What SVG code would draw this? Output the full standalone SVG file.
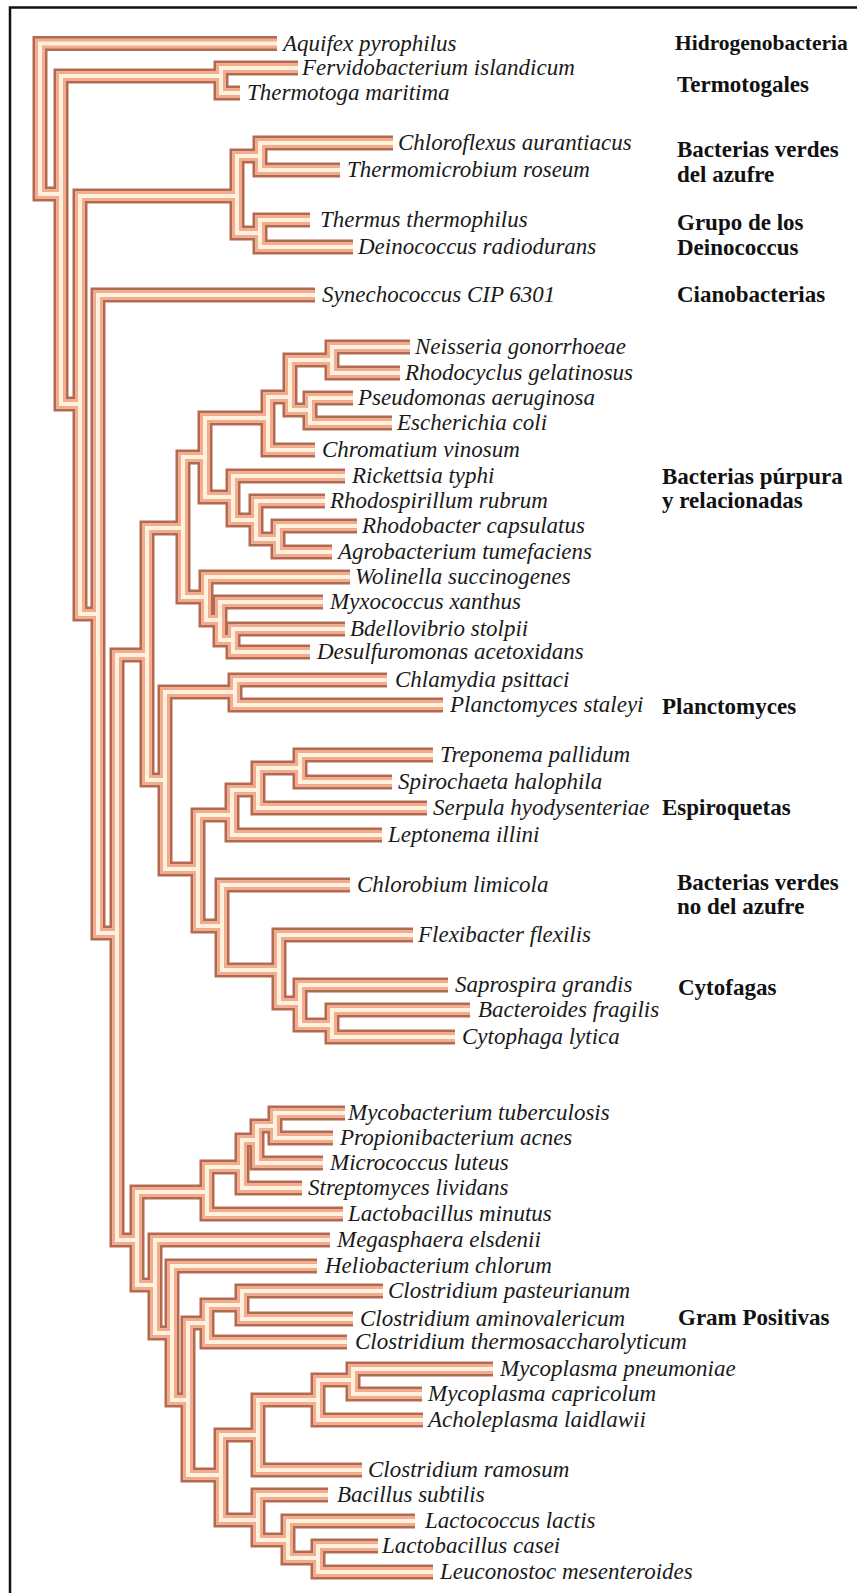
<svg xmlns="http://www.w3.org/2000/svg" xmlns:xlink="http://www.w3.org/1999/xlink" width="857" height="1593" viewBox="0 0 857 1593">
<style>
.leaf{font-family:"Liberation Serif","DejaVu Serif",serif;font-style:italic;font-size:23px;fill:#1a1a1a}
.grp{font-family:"Liberation Serif","DejaVu Serif",serif;font-weight:bold;font-size:23px;fill:#111}
.t1{fill:none;stroke:#b36a50;stroke-width:15;stroke-linejoin:miter}
.t2{fill:none;stroke:#f0ad92;stroke-width:10;stroke-linejoin:miter}
.t3{fill:none;stroke:#fff1dc;stroke-width:4;stroke-linejoin:miter}
</style>
<defs>
<g id="branches">
<path d="M277,43.5 H40 V194 H61"/>
<path d="M221,76 H61 V404 H80"/>
<path d="M298,68 H221 V93 H240"/>
<path d="M237,196 H80 V614 H98"/>
<path d="M260,156 H237 V233 H260"/>
<path d="M393,143 H260 V170 H340"/>
<path d="M310,220 H260 V247 H353"/>
<path d="M315,295 H98 V933 H117"/>
<path d="M147,655 H117 V1240 H137"/>
<path d="M183,528 H147 V780 H165"/>
<path d="M205,457 H183 V597 H206"/>
<path d="M268,418 H205 V497 H233"/>
<path d="M290,397 H268 V450 H315"/>
<path d="M332,360 H290 V410 H310"/>
<path d="M410,347 H332 V373 H400"/>
<path d="M353,398 H310 V423 H392"/>
<path d="M345,476 H233 V520 H256"/>
<path d="M325,501 H256 V539 H278"/>
<path d="M357,526 H278 V552 H332"/>
<path d="M350,577 H206 V620 H220"/>
<path d="M323,602 H220 V640 H233"/>
<path d="M345,629 H233 V652 H310"/>
<path d="M235,692 H165 V869 H198"/>
<path d="M387,680 H235 V705 H443"/>
<path d="M232,815 H198 V926 H222"/>
<path d="M258,790 H232 V835 H382"/>
<path d="M300,768 H258 V808 H427"/>
<path d="M433,755 H300 V782 H392"/>
<path d="M350,885 H222 V970 H279"/>
<path d="M413,935 H279 V1003 H300"/>
<path d="M448,985 H300 V1025 H332"/>
<path d="M470,1010 H332 V1037 H455"/>
<path d="M207,1192 H137 V1285 H155"/>
<path d="M242,1167 H207 V1214 H343"/>
<path d="M257,1140 H242 V1188 H302"/>
<path d="M275,1126 H257 V1163 H323"/>
<path d="M345,1113 H275 V1138 H333"/>
<path d="M330,1240 H155 V1333 H172"/>
<path d="M317,1266 H172 V1400 H188"/>
<path d="M207,1323 H188 V1475 H221"/>
<path d="M242,1305 H207 V1342 H347"/>
<path d="M383,1291 H242 V1319 H353"/>
<path d="M258,1435 H221 V1520 H258"/>
<path d="M318,1400 H258 V1470 H362"/>
<path d="M353,1380 H318 V1420 H423"/>
<path d="M493,1369 H353 V1394 H422"/>
<path d="M328,1495 H258 V1540 H288"/>
<path d="M415,1521 H288 V1558 H318"/>
<path d="M378,1546 H318 V1572 H433"/>
</g>
</defs>
<rect x="0" y="0" width="857" height="1593" fill="#fff"/>
<g id="frame" stroke="#111" stroke-width="2.5" fill="none">
<path d="M10,1593 V7.5 H857"/>
</g>
<g id="connectors">
<use xlink:href="#branches" class="t1"/>
<use xlink:href="#branches" class="t2"/>
<use xlink:href="#branches" class="t3"/>
</g>
<g id="leaves">
<g id="n-aquifex"><text class="leaf" x="283" y="50.5">Aquifex pyrophilus</text></g>
<g id="n-fervidobacterium"><text class="leaf" x="302" y="75">Fervidobacterium islandicum</text></g>
<g id="n-thermotoga"><text class="leaf" x="247" y="100">Thermotoga maritima</text></g>
<g id="n-chloroflexus"><text class="leaf" x="398" y="150">Chloroflexus aurantiacus</text></g>
<g id="n-thermomicrobium"><text class="leaf" x="347" y="177">Thermomicrobium roseum</text></g>
<g id="n-thermus"><text class="leaf" x="320" y="227">Thermus thermophilus</text></g>
<g id="n-deinococcus"><text class="leaf" x="358" y="254">Deinococcus radiodurans</text></g>
<g id="n-synechococcus"><text class="leaf" x="322" y="302">Synechococcus CIP 6301</text></g>
<g id="n-neisseria"><text class="leaf" x="415" y="354">Neisseria gonorrhoeae</text></g>
<g id="n-rhodocyclus"><text class="leaf" x="405" y="380">Rhodocyclus gelatinosus</text></g>
<g id="n-pseudomonas"><text class="leaf" x="358" y="405">Pseudomonas aeruginosa</text></g>
<g id="n-escherichia"><text class="leaf" x="397" y="430">Escherichia coli</text></g>
<g id="n-chromatium"><text class="leaf" x="322" y="457">Chromatium vinosum</text></g>
<g id="n-rickettsia"><text class="leaf" x="352" y="483">Rickettsia typhi</text></g>
<g id="n-rhodospirillum"><text class="leaf" x="330" y="508">Rhodospirillum rubrum</text></g>
<g id="n-rhodobacter"><text class="leaf" x="362" y="533">Rhodobacter capsulatus</text></g>
<g id="n-agrobacterium"><text class="leaf" x="338" y="559">Agrobacterium tumefaciens</text></g>
<g id="n-wolinella"><text class="leaf" x="355" y="584">Wolinella succinogenes</text></g>
<g id="n-myxococcus"><text class="leaf" x="330" y="609">Myxococcus xanthus</text></g>
<g id="n-bdellovibrio"><text class="leaf" x="350" y="636">Bdellovibrio stolpii</text></g>
<g id="n-desulfuromonas"><text class="leaf" x="317" y="659">Desulfuromonas acetoxidans</text></g>
<g id="n-chlamydia"><text class="leaf" x="395" y="687">Chlamydia psittaci</text></g>
<g id="n-planctomyces"><text class="leaf" x="450" y="712">Planctomyces staleyi</text></g>
<g id="n-treponema"><text class="leaf" x="440" y="762">Treponema pallidum</text></g>
<g id="n-spirochaeta"><text class="leaf" x="398" y="789">Spirochaeta halophila</text></g>
<g id="n-serpula"><text class="leaf" x="433" y="815">Serpula hyodysenteriae</text></g>
<g id="n-leptonema"><text class="leaf" x="388" y="842">Leptonema illini</text></g>
<g id="n-chlorobium"><text class="leaf" x="357" y="892">Chlorobium limicola</text></g>
<g id="n-flexibacter"><text class="leaf" x="418" y="942">Flexibacter flexilis</text></g>
<g id="n-saprospira"><text class="leaf" x="455" y="992">Saprospira grandis</text></g>
<g id="n-bacteroides"><text class="leaf" x="478" y="1017">Bacteroides fragilis</text></g>
<g id="n-cytophaga"><text class="leaf" x="462" y="1044">Cytophaga lytica</text></g>
<g id="n-mycobacterium"><text class="leaf" x="348" y="1120">Mycobacterium tuberculosis</text></g>
<g id="n-propionibacterium"><text class="leaf" x="340" y="1145">Propionibacterium acnes</text></g>
<g id="n-micrococcus"><text class="leaf" x="330" y="1170">Micrococcus luteus</text></g>
<g id="n-streptomyces"><text class="leaf" x="308" y="1195">Streptomyces lividans</text></g>
<g id="n-lactobacillus-minutus"><text class="leaf" x="348" y="1221">Lactobacillus minutus</text></g>
<g id="n-megasphaera"><text class="leaf" x="337" y="1247">Megasphaera elsdenii</text></g>
<g id="n-heliobacterium"><text class="leaf" x="325" y="1273">Heliobacterium chlorum</text></g>
<g id="n-clostridium-pasteurianum"><text class="leaf" x="388" y="1298">Clostridium pasteurianum</text></g>
<g id="n-clostridium-aminovalericum"><text class="leaf" x="360" y="1326">Clostridium aminovalericum</text></g>
<g id="n-clostridium-thermosaccharolyticum"><text class="leaf" x="355" y="1349">Clostridium thermosaccharolyticum</text></g>
<g id="n-mycoplasma-pneumoniae"><text class="leaf" x="500" y="1376">Mycoplasma pneumoniae</text></g>
<g id="n-mycoplasma-capricolum"><text class="leaf" x="428" y="1401">Mycoplasma capricolum</text></g>
<g id="n-acholeplasma"><text class="leaf" x="428" y="1427">Acholeplasma laidlawii</text></g>
<g id="n-clostridium-ramosum"><text class="leaf" x="368" y="1477">Clostridium ramosum</text></g>
<g id="n-bacillus"><text class="leaf" x="337" y="1502">Bacillus subtilis</text></g>
<g id="n-lactococcus"><text class="leaf" x="425" y="1528">Lactococcus lactis</text></g>
<g id="n-lactobacillus-casei"><text class="leaf" x="382" y="1553">Lactobacillus casei</text></g>
<g id="n-leuconostoc"><text class="leaf" x="440" y="1579">Leuconostoc mesenteroides</text></g>
</g>
<g id="groups">
<g id="g-hidrogenobacteria"><text class="grp" x="675" y="50" style="font-size:21.5px">Hidrogenobacteria</text></g>
<g id="g-termotogales"><text class="grp" x="677" y="92">Termotogales</text></g>
<g id="g-verdes-azufre"><text class="grp" x="677" y="157">Bacterias verdes</text><text class="grp" x="677" y="182">del azufre</text></g>
<g id="g-deinococcus"><text class="grp" x="677" y="230">Grupo de los</text><text class="grp" x="677" y="255">Deinococcus</text></g>
<g id="g-cianobacterias"><text class="grp" x="677" y="302">Cianobacterias</text></g>
<g id="g-purpura"><text class="grp" x="662" y="484">Bacterias púrpura</text><text class="grp" x="662" y="508">y relacionadas</text></g>
<g id="g-planctomyces"><text class="grp" x="662" y="714">Planctomyces</text></g>
<g id="g-espiroquetas"><text class="grp" x="662" y="815">Espiroquetas</text></g>
<g id="g-verdes-no-azufre"><text class="grp" x="677" y="890">Bacterias verdes</text><text class="grp" x="677" y="914">no del azufre</text></g>
<g id="g-cytofagas"><text class="grp" x="678" y="995">Cytofagas</text></g>
<g id="g-gram"><text class="grp" x="678" y="1325">Gram Positivas</text></g>
</g>
</svg>
